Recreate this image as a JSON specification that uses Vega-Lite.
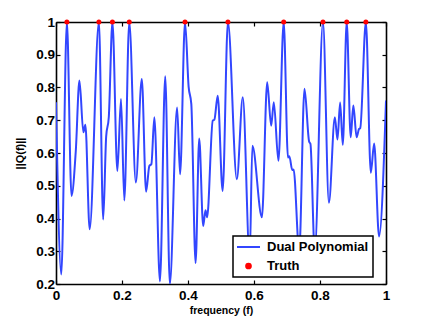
{
  "$schema": "https://vega.github.io/schema/vega-lite/v6.json",
  "width": 330,
  "height": 262,
  "autosize": {"type": "none"},
  "padding": {"left": 56, "top": 22, "right": 41, "bottom": 36},
  "background": "white",
  "config": {
    "view": {"stroke": null},
    "axis": {
      "domainColor": "black", "domainWidth": 1.6,
      "tickColor": "black", "tickWidth": 1.2, "tickSize": -4,
      "grid": false, "labelFlush": false, "labelOverlap": false,
      "labelFont": "Liberation Sans", "labelFontWeight": "bold", "labelFontSize": 13.5, "labelColor": "black",
      "titleFont": "Liberation Sans", "titleFontWeight": "bold", "titleColor": "black"
    }
  },
  "datasets": {
    "curve": [
      {"series": "Dual Polynomial", "f": 0, "v": 0.755}, {"series": "Dual Polynomial", "f": 0.016, "v": 0.229},
      {"series": "Dual Polynomial", "f": 0.033, "v": 1}, {"series": "Dual Polynomial", "f": 0.047, "v": 0.469},
      {"series": "Dual Polynomial", "f": 0.060, "v": 0.607}, {"series": "Dual Polynomial", "f": 0.071, "v": 0.821},
      {"series": "Dual Polynomial", "f": 0.083, "v": 0.663}, {"series": "Dual Polynomial", "f": 0.089, "v": 0.686},
      {"series": "Dual Polynomial", "f": 0.102, "v": 0.367}, {"series": "Dual Polynomial", "f": 0.130, "v": 1},
      {"series": "Dual Polynomial", "f": 0.143, "v": 0.397}, {"series": "Dual Polynomial", "f": 0.152, "v": 0.65},
      {"series": "Dual Polynomial", "f": 0.160, "v": 0.71}, {"series": "Dual Polynomial", "f": 0.171, "v": 1},
      {"series": "Dual Polynomial", "f": 0.186, "v": 0.545}, {"series": "Dual Polynomial", "f": 0.197, "v": 0.765},
      {"series": "Dual Polynomial", "f": 0.207, "v": 0.455}, {"series": "Dual Polynomial", "f": 0.222, "v": 1},
      {"series": "Dual Polynomial", "f": 0.242, "v": 0.510}, {"series": "Dual Polynomial", "f": 0.260, "v": 0.826},
      {"series": "Dual Polynomial", "f": 0.273, "v": 0.482}, {"series": "Dual Polynomial", "f": 0.283, "v": 0.561},
      {"series": "Dual Polynomial", "f": 0.289, "v": 0.566}, {"series": "Dual Polynomial", "f": 0.298, "v": 0.709},
      {"series": "Dual Polynomial", "f": 0.315, "v": 0.208}, {"series": "Dual Polynomial", "f": 0.331, "v": 0.834},
      {"series": "Dual Polynomial", "f": 0.345, "v": 0.2}, {"series": "Dual Polynomial", "f": 0.367, "v": 0.739},
      {"series": "Dual Polynomial", "f": 0.376, "v": 0.535}, {"series": "Dual Polynomial", "f": 0.391, "v": 1},
      {"series": "Dual Polynomial", "f": 0.402, "v": 0.801}, {"series": "Dual Polynomial", "f": 0.410, "v": 0.75},
      {"series": "Dual Polynomial", "f": 0.423, "v": 0.264}, {"series": "Dual Polynomial", "f": 0.434, "v": 0.644},
      {"series": "Dual Polynomial", "f": 0.446, "v": 0.377}, {"series": "Dual Polynomial", "f": 0.453, "v": 0.425},
      {"series": "Dual Polynomial", "f": 0.458, "v": 0.404}, {"series": "Dual Polynomial", "f": 0.475, "v": 0.699},
      {"series": "Dual Polynomial", "f": 0.480, "v": 0.702}, {"series": "Dual Polynomial", "f": 0.490, "v": 0.775},
      {"series": "Dual Polynomial", "f": 0.505, "v": 0.484}, {"series": "Dual Polynomial", "f": 0.521, "v": 1},
      {"series": "Dual Polynomial", "f": 0.548, "v": 0.520}, {"series": "Dual Polynomial", "f": 0.566, "v": 0.770},
      {"series": "Dual Polynomial", "f": 0.587, "v": 0.28}, {"series": "Dual Polynomial", "f": 0.595, "v": 0.622},
      {"series": "Dual Polynomial", "f": 0.624, "v": 0.404}, {"series": "Dual Polynomial", "f": 0.640, "v": 0.816},
      {"series": "Dual Polynomial", "f": 0.652, "v": 0.683}, {"series": "Dual Polynomial", "f": 0.660, "v": 0.755},
      {"series": "Dual Polynomial", "f": 0.674, "v": 0.576}, {"series": "Dual Polynomial", "f": 0.690, "v": 1},
      {"series": "Dual Polynomial", "f": 0.703, "v": 0.586}, {"series": "Dual Polynomial", "f": 0.707, "v": 0.59},
      {"series": "Dual Polynomial", "f": 0.716, "v": 0.548}, {"series": "Dual Polynomial", "f": 0.720, "v": 0.55},
      {"series": "Dual Polynomial", "f": 0.737, "v": 0.30}, {"series": "Dual Polynomial", "f": 0.753, "v": 0.796},
      {"series": "Dual Polynomial", "f": 0.767, "v": 0.635}, {"series": "Dual Polynomial", "f": 0.771, "v": 0.628},
      {"series": "Dual Polynomial", "f": 0.784, "v": 0.30}, {"series": "Dual Polynomial", "f": 0.809, "v": 1},
      {"series": "Dual Polynomial", "f": 0.827, "v": 0.448}, {"series": "Dual Polynomial", "f": 0.845, "v": 0.709},
      {"series": "Dual Polynomial", "f": 0.853, "v": 0.641}, {"series": "Dual Polynomial", "f": 0.861, "v": 0.754},
      {"series": "Dual Polynomial", "f": 0.869, "v": 0.625}, {"series": "Dual Polynomial", "f": 0.881, "v": 1},
      {"series": "Dual Polynomial", "f": 0.893, "v": 0.648}, {"series": "Dual Polynomial", "f": 0.901, "v": 0.745},
      {"series": "Dual Polynomial", "f": 0.911, "v": 0.648}, {"series": "Dual Polynomial", "f": 0.918, "v": 0.673},
      {"series": "Dual Polynomial", "f": 0.922, "v": 0.676}, {"series": "Dual Polynomial", "f": 0.939, "v": 1},
      {"series": "Dual Polynomial", "f": 0.954, "v": 0.540}, {"series": "Dual Polynomial", "f": 0.964, "v": 0.629},
      {"series": "Dual Polynomial", "f": 0.979, "v": 0.345}, {"series": "Dual Polynomial", "f": 1, "v": 0.76}
    ],
    "truth": [
      {"series": "Truth", "f": 0.033, "v": 1}, {"series": "Truth", "f": 0.130, "v": 1},
      {"series": "Truth", "f": 0.171, "v": 1}, {"series": "Truth", "f": 0.222, "v": 1},
      {"series": "Truth", "f": 0.391, "v": 1}, {"series": "Truth", "f": 0.521, "v": 1},
      {"series": "Truth", "f": 0.690, "v": 1}, {"series": "Truth", "f": 0.809, "v": 1},
      {"series": "Truth", "f": 0.881, "v": 1}, {"series": "Truth", "f": 0.939, "v": 1}
    ]
  },
  "encoding": {
    "color": {
      "field": "series", "type": "nominal",
      "scale": {"domain": ["Dual Polynomial", "Truth"], "range": ["#3246ff", "#ff0000"]},
      "legend": {
        "orient": "none", "legendX": 177, "legendY": 214, "title": null,
        "strokeColor": "black", "fillColor": "white", "padding": 4,
        "labelFont": "Liberation Sans", "labelFontWeight": "bold", "labelFontSize": 13, "labelColor": "black",
        "symbolSize": 144, "symbolStrokeWidth": 2, "symbolOffset": 4.5, "labelOffset": 11.5, "rowPadding": 5,
        "encode": {
          "legend": {"update": {"strokeWidth": {"value": 1.5}}},
          "symbols": {"update": {
            "shape": {"signal": "datum.value === 'Truth' ? 'circle' : 'M-1.917,0H1.917'"},
            "size": {"signal": "datum.value === 'Truth' ? 22 : 144"},
            "stroke": {"signal": "datum.value === 'Truth' ? 'transparent' : '#3246ff'"},
            "fill": {"signal": "datum.value === 'Truth' ? '#ff0000' : 'transparent'"},
            "strokeWidth": {"value": 2},
            "opacity": {"value": 1}
          }}
        }
      }
    }
  },
  "layer": [
    {
      "data": {"name": "curve"},
      "mark": {"type": "line", "interpolate": "monotone", "strokeWidth": 2, "clip": true},
      "encoding": {
        "x": {"field": "f", "type": "quantitative", "scale": {"domain": [0, 1], "nice": false},
          "axis": {"orient": "bottom", "values": [0, 0.2, 0.4, 0.6, 0.8, 1], "format": "~g", "title": "frequency (f)",
            "titleFontSize": 10.5, "labelPadding": 8, "titlePadding": 4}},
        "y": {"field": "v", "type": "quantitative", "scale": {"domain": [0.2, 1], "nice": false, "zero": false},
          "axis": {"orient": "left", "values": [0.2, 0.3, 0.4, 0.5, 0.6, 0.7, 0.8, 0.9, 1], "format": "~g", "title": "||Q(f)||",
            "titleFontSize": 11, "labelPadding": 5.5, "titlePadding": 10}}
      }
    },
    {
      "data": {"name": "truth"},
      "mark": {"type": "circle", "size": 25, "opacity": 1, "clip": false},
      "encoding": {
        "x": {"field": "f", "type": "quantitative",
          "axis": {"orient": "top", "values": [0, 0.2, 0.4, 0.6, 0.8, 1], "labels": false, "title": null}},
        "y": {"field": "v", "type": "quantitative",
          "axis": {"orient": "right", "values": [0.2, 0.3, 0.4, 0.5, 0.6, 0.7, 0.8, 0.9, 1], "labels": false, "title": null}}
      }
    }
  ],
  "resolve": {"axis": {"x": "independent", "y": "independent"}}
}
